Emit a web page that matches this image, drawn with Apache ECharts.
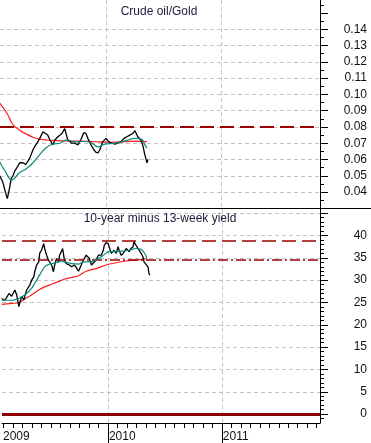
<!DOCTYPE html>
<html><head><meta charset="utf-8">
<script src="https://cdn.jsdelivr.net/npm/echarts@6/dist/echarts.min.js"></script>
<style>html,body{margin:0;padding:0;background:#fff}#c{width:371px;height:443px}</style>
</head><body><div id="c"></div>
<script>
// ---- Data ----
const ratioDates = ['2009-01-26','2009-02-05','2009-02-11','2009-02-18','2009-02-24','2009-03-01','2009-03-07','2009-03-13','2009-03-20','2009-03-29','2009-04-08','2009-04-17','2009-04-24','2009-04-30','2009-05-10','2009-05-16','2009-05-23','2009-06-01','2009-06-11','2009-06-17','2009-06-26','2009-07-03','2009-07-13','2009-07-19','2009-07-29','2009-08-11','2009-08-20','2009-08-30','2009-09-12','2009-09-21','2009-10-01','2009-10-10','2009-10-20','2009-10-27','2009-11-02','2009-11-12','2009-11-21','2009-11-27','2009-12-04','2009-12-10','2009-12-20','2009-12-30','2010-01-08','2010-01-18','2010-01-28','2010-02-06','2010-02-15','2010-02-24','2010-03-05','2010-03-14','2010-03-24','2010-03-31','2010-04-09','2010-04-19','2010-04-25','2010-05-01','2010-05-08','2010-05-11'];
const ratioValues = [0.050,0.046,0.041,0.036,0.042,0.048,0.050,0.053,0.055,0.058,0.058,0.057,0.059,0.061,0.066,0.068,0.070,0.073,0.077,0.078,0.075,0.072,0.069,0.072,0.074,0.076,0.079,0.072,0.070,0.070,0.069,0.072,0.0765,0.076,0.073,0.069,0.066,0.0645,0.064,0.066,0.071,0.073,0.071,0.070,0.0695,0.070,0.071,0.073,0.074,0.075,0.076,0.0777,0.074,0.072,0.0685,0.063,0.058,0.060];

const ratioMaShortDates = ['2009-01-26','2009-02-11','2009-03-03','2009-03-29','2009-04-20','2009-05-10','2009-06-01','2009-06-23','2009-07-13','2009-08-04','2009-08-27','2009-09-21','2009-10-23','2009-11-15','2009-12-04','2009-12-26','2010-01-28','2010-02-27','2010-03-31','2010-04-22','2010-05-01','2010-05-08'];
const ratioMaShort = [0.0585,0.053,0.0475,0.052,0.0545,0.058,0.063,0.0675,0.0695,0.070,0.072,0.0708,0.0712,0.070,0.0678,0.0695,0.070,0.0714,0.073,0.0723,0.069,0.067];

const ratioMaLongDates = ['2009-01-26','2009-02-17','2009-03-07','2009-03-29','2009-04-20','2009-05-10','2009-06-01','2009-07-03','2009-08-20','2009-10-07','2009-11-24','2010-01-12','2010-02-27','2010-03-31','2010-05-01','2010-05-08'];
const ratioMaLong = [0.0946,0.0884,0.0815,0.078,0.0755,0.0737,0.0725,0.0718,0.0714,0.0713,0.0709,0.0706,0.0709,0.0713,0.0710,0.0708];

const spreadDates = ['2009-01-26','2009-02-05','2009-02-17','2009-02-25','2009-03-07','2009-03-13','2009-03-20','2009-03-29','2009-04-05','2009-04-14','2009-04-24','2009-04-30','2009-05-07','2009-05-10','2009-05-16','2009-05-23','2009-05-26','2009-06-01','2009-06-08','2009-06-11','2009-06-17','2009-06-23','2009-07-03','2009-07-09','2009-07-13','2009-07-19','2009-07-26','2009-07-29','2009-08-04','2009-08-08','2009-08-14','2009-08-20','2009-08-30','2009-09-06','2009-09-12','2009-09-15','2009-09-21','2009-09-28','2009-10-07','2009-10-14','2009-10-23','2009-11-02','2009-11-09','2009-11-15','2009-11-24','2009-12-01','2009-12-10','2009-12-17','2009-12-20','2009-12-26','2010-01-02','2010-01-05','2010-01-12','2010-01-18','2010-01-21','2010-01-28','2010-02-03','2010-02-06','2010-02-12','2010-02-18','2010-02-21','2010-02-27','2010-03-05','2010-03-08','2010-03-14','2010-03-21','2010-03-24','2010-03-31','2010-04-06','2010-04-09','2010-04-16','2010-04-22','2010-04-25','2010-05-01','2010-05-08','2010-05-11','2010-05-14'];
const spreadValues = [25.9,25.5,27.0,26.4,27.8,26.7,24.1,26.4,25.6,27.8,28.9,30.0,30.8,31.9,33.4,34.1,36.0,36.7,38.2,37.1,35.6,34.5,33.4,31.9,33.4,34.9,34.1,35.6,36.4,37.1,34.5,33.7,33.4,33.0,32.6,33.4,32.8,32.0,33.4,34.5,35.6,34.9,33.4,33.7,34.5,35.6,35.6,36.7,37.8,38.4,38.2,37.5,36.0,36.4,36.7,36.0,37.5,36.7,35.6,36.0,36.4,37.1,37.5,36.4,37.1,37.5,38.6,37.8,37.1,36.7,36.0,35.2,34.1,33.7,33.0,31.5,31.1];

const spreadMaShortDates = ['2009-01-26','2009-02-25','2009-03-20','2009-04-08','2009-04-20','2009-04-30','2009-05-10','2009-05-23','2009-06-01','2009-06-11','2009-06-23','2009-07-03','2009-07-26','2009-08-04','2009-08-14','2009-08-27','2009-09-06','2009-09-28','2009-10-14','2009-11-02','2009-11-24','2009-12-17','2010-01-05','2010-01-28','2010-02-18','2010-03-08','2010-03-31','2010-04-16','2010-04-25','2010-05-05'];
const spreadMaShort = [25.5,25.5,25.9,26.7,27.4,28.2,29.3,30.8,31.9,33.0,33.5,33.7,34.1,34.3,34.1,33.9,33.7,33.6,34.1,34.1,34.5,35.6,36.4,36.4,36.5,36.7,37.1,36.9,36.2,34.9];

const spreadMaLongDates = ['2009-01-26','2009-02-25','2009-03-20','2009-04-08','2009-04-30','2009-05-23','2009-06-11','2009-07-03','2009-07-26','2009-08-14','2009-09-06','2009-09-28','2009-10-23','2009-11-24','2009-12-26','2010-01-28','2010-02-27','2010-03-31','2010-04-22','2010-05-05'];
const spreadMaLong = [24.6,24.8,25.0,25.8,26.7,27.8,28.5,29.1,29.7,30.2,30.6,31.0,32.0,32.6,33.4,33.9,34.3,34.5,34.7,34.8];

const ratioLevel = 0.08;
const spreadLevels = [38.8, 34.6, 0];

const ratioTickLabels = [0.04,0.05,0.06,0.07,0.08,0.09,0.10,0.11,0.12,0.13,0.14];
const spreadTickLabels = [0,5,10,15,20,25,30,35,40];
const yearTicks = [12, 24];          // months since Jan 2009: 2010, 2011
const yearLabels = ['2009','2010','2011'];

// ---- helpers ----
function toM(s){
  const p = s.split('-').map(Number);
  const dim = new Date(Date.UTC(p[0], p[1], 0)).getUTCDate();
  return (p[0]-2009)*12 + (p[1]-1) + (p[2]-1)/dim;
}
function pairs(d, v){ return d.map((s,i)=>[toM(s), v[i]]); }
function range(a, b, step, dec){ const r=[]; for(let v=a; v<=b+step/2; v+=step) r.push(+v.toFixed(dec)); return r; }

const XMIN = 0.838, XMAX = 34.346;
const FONT = 'Liberation Sans, Arial, sans-serif';
const gridGray = {color:'#c4c4c4', type:[4,3], width:1};
const black = '#000';

const monthTicks = range(1, 34, 1, 0);
const ratioMajor = range(0.04, 0.15, 0.01, 3);
const ratioMinor = range(0.035, 0.155, 0.01, 3);
const spreadMajor = range(0, 45, 5, 0);
const spreadMinor = range(-1, 45, 1, 0).filter(v => v % 5 !== 0);

function hiddenX(grid, extra){
  return Object.assign({type:'value', gridIndex:grid, position:'bottom', min:XMIN, max:XMAX,
    axisLine:{show:false}, axisTick:{show:false}, axisLabel:{show:false}, splitLine:{show:false}}, extra||{});
}
function yAx(grid, min, max, extra){
  return Object.assign({type:'value', gridIndex:grid, position:'right', min:min, max:max,
    axisLine:{show:false}, axisTick:{show:false}, axisLabel:{show:false}, splitLine:{show:false}}, extra);
}

const chart = echarts.init(document.getElementById('c'), null, {renderer:'canvas'});
chart.setOption({
  animation:false,
  backgroundColor:'#fff',
  textStyle:{fontFamily:FONT},
  grid:[
    {left:0, right:51, top:0, height:208},
    {left:0, right:51, top:209, height:215}
  ],
  xAxis:[
    hiddenX(0, {axisTick:{show:false, customValues:yearTicks}, splitLine:{show:true, lineStyle:gridGray}}),
    hiddenX(1, {axisLine:{show:true, onZero:false, lineStyle:{color:black, width:1}},
      axisTick:{show:true, customValues:monthTicks, length:5, lineStyle:{color:black}}}),
    hiddenX(1, {axisLine:{show:false, onZero:false},
      axisTick:{show:true, customValues:yearTicks, length:20, lineStyle:{color:black}},
      splitLine:{show:true, lineStyle:gridGray},
      axisLabel:{show:true, customValues:[XMIN, 12, 24], align:'left', margin:8, padding:[0,0,0,1],
        color:'#111', fontSize:12, fontFamily:FONT,
        formatter:function(v){ return v < 1 ? yearLabels[0] : (v < 18 ? yearLabels[1] : yearLabels[2]); }}})
  ],
  yAxis:[
    yAx(0, 0.0302, 0.158, {axisLine:{show:true, lineStyle:{color:black}},
      axisTick:{show:true, customValues:ratioMajor, length:8, lineStyle:{color:black}},
      axisLabel:{show:true, customValues:ratioTickLabels, align:'right', margin:47, color:'#111', fontSize:12, fontFamily:FONT,
        formatter:function(v){ return v.toFixed(2); }}}),
    yAx(0, 0.0302, 0.158, {axisTick:{show:true, customValues:ratioMinor, length:4, lineStyle:{color:black}}}),
    yAx(0, 0.0302, 0.158, {axisTick:{show:false, customValues:ratioTickLabels}, splitLine:{show:true, lineStyle:gridGray}}),
    yAx(1, -2.0, 45.95, {axisLine:{show:true, lineStyle:{color:black}},
      axisTick:{show:true, customValues:spreadMajor, length:8, lineStyle:{color:black}},
      axisLabel:{show:true, customValues:spreadTickLabels, align:'right', margin:47, color:'#111', fontSize:12, fontFamily:FONT}}),
    yAx(1, -2.0, 45.95, {axisTick:{show:true, customValues:spreadMinor, length:4, lineStyle:{color:black}}}),
    yAx(1, -2.0, 45.95, {axisTick:{show:false, customValues:spreadMajor}, splitLine:{show:true, lineStyle:gridGray}})
  ],
  series:[
    {type:'line', xAxisIndex:0, yAxisIndex:0, data:pairs(ratioMaLongDates, ratioMaLong), showSymbol:false, smooth:0.4,
      lineStyle:{color:'#ff1a1a', width:1.2}, z:3},
    {type:'line', xAxisIndex:0, yAxisIndex:0, data:pairs(ratioDates, ratioValues), showSymbol:false,
      lineStyle:{color:'#000', width:1.3}, z:4,
      markLine:{silent:true, symbol:['none','none'], label:{show:false},
        lineStyle:{color:'#9a0000', type:[14,6], width:2}, data:[{yAxis:ratioLevel}]}},
    {type:'line', xAxisIndex:0, yAxisIndex:0, data:pairs(ratioMaShortDates, ratioMaShort), showSymbol:false, smooth:0.4,
      lineStyle:{color:'#0a8a7a', width:1.2}, z:5},

    {type:'line', xAxisIndex:1, yAxisIndex:3, data:pairs(spreadMaLongDates, spreadMaLong), showSymbol:false, smooth:0.4,
      lineStyle:{color:'#ff1a1a', width:1.2}, z:3},
    {type:'line', xAxisIndex:1, yAxisIndex:3, data:pairs(spreadDates, spreadValues), showSymbol:false,
      lineStyle:{color:'#000', width:1.3}, z:4,
      markLine:{silent:true, symbol:['none','none'], label:{show:false}, data:[
        {yAxis:spreadLevels[0], lineStyle:{color:'#9a0000', type:[14,6], width:1.5}},
        {yAxis:spreadLevels[1], lineStyle:{color:'#9a0000', type:[10,3,2,3], width:1.5}},
        {yAxis:spreadLevels[2], lineStyle:{color:'#8b0000', type:'solid', width:3}}
      ]}},
    {type:'line', xAxisIndex:1, yAxisIndex:3, data:pairs(spreadMaShortDates, spreadMaShort), showSymbol:false, smooth:0.4,
      lineStyle:{color:'#0a8a7a', width:1.2}, z:5}
  ],
  graphic:[
    {type:'line', shape:{x1:0, y1:208.5, x2:371, y2:208.5}, style:{stroke:'#000', lineWidth:1}, z:100},
    {type:'text', x:159, y:12, style:{text:'Crude oil/Gold', textAlign:'center', textVerticalAlign:'middle',
      font:'12px ' + FONT, fill:'#1a1a3a'}, z:100},
    {type:'text', x:160, y:219, style:{text:'10-year minus 13-week yield', textAlign:'center', textVerticalAlign:'middle',
      font:'12px ' + FONT, fill:'#1a1a3a'}, z:100}
  ]
});
</script>
</body></html>
